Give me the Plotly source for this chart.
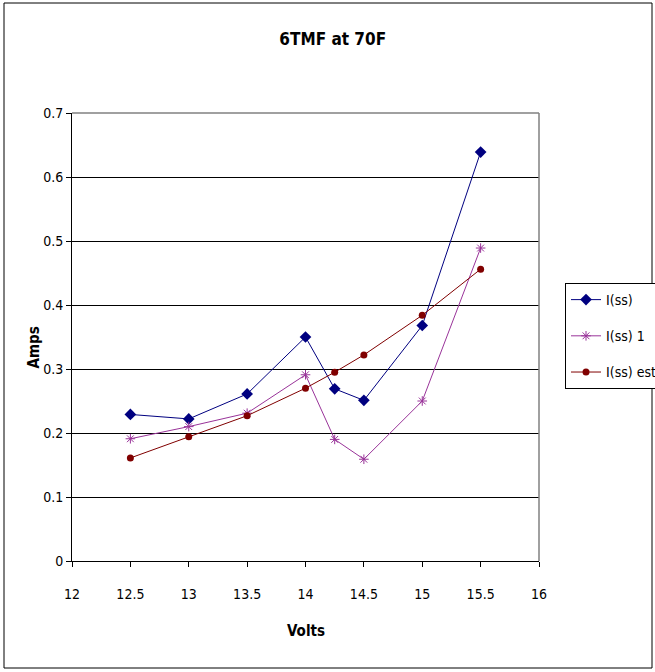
import plotly.graph_objects as go

volts = [12.5, 13, 13.5, 14, 14.25, 14.5, 15, 15.5]
i_ss = [0.229, 0.222, 0.261, 0.350, 0.269, 0.251, 0.368, 0.639]
i_ss_1 = [0.191, 0.210, 0.231, 0.291, 0.190, 0.159, 0.250, 0.489]
i_ss_est = [0.161, 0.194, 0.227, 0.270, 0.295, 0.322, 0.384, 0.456]

x_ticks = [12, 12.5, 13, 13.5, 14, 14.5, 15, 15.5, 16]
y_ticks = [0, 0.1, 0.2, 0.3, 0.4, 0.5, 0.6, 0.7]

FONT = "Liberation Sans Narrow, Arial Narrow, DejaVu Sans Condensed, Liberation Sans, Arial, sans-serif"

fig = go.Figure()
fig.add_trace(go.Scatter(
    x=volts, y=i_ss, name="I(ss)", mode="lines+markers", legendgroup="a",
    line=dict(color="#000080", width=1),
    marker=dict(symbol="diamond", size=9, color="#000080"),
))
fig.add_trace(go.Scatter(
    x=volts, y=i_ss_1, name="I(ss) 1", mode="lines+markers", legendgroup="b",
    line=dict(color="#993399", width=1),
    marker=dict(symbol="asterisk-open", size=8, color="#993399",
                line=dict(color="#993399", width=1)),
))
fig.add_trace(go.Scatter(
    x=volts, y=i_ss_est, name="I(ss) est", mode="lines+markers", legendgroup="c",
    line=dict(color="#800000", width=1),
    marker=dict(symbol="circle", size=7, color="#800000"),
))

fig.update_layout(
    width=655, height=672,
    margin=dict(l=72, r=116, t=113, b=111, autoexpand=False),
    paper_bgcolor="white", plot_bgcolor="white",
    font=dict(family=FONT, size=14, color="black"),
    title=dict(text="<b>6TMF at 70F</b>", x=0.508, xanchor="center",
               y=1 - 39.5 / 672, yanchor="middle",
               font=dict(family=FONT, size=17, color="black")),
    showlegend=True,
    legend=dict(x=1.0557, xanchor="left", y=0.6205, yanchor="top",
                bordercolor="black", borderwidth=1, bgcolor="white",
                font=dict(family=FONT, size=14, color="black"),
                traceorder="grouped", tracegroupgap=15,
                itemwidth=30),
    xaxis=dict(range=[12, 16], tickvals=x_ticks, ticktext=[f"{v:g}" for v in x_ticks],
               showgrid=False, zeroline=False,
               showline=True, linecolor="black", linewidth=1,
               ticks="outside", ticklen=5, tickcolor="black",
               ticklabelstandoff=15),
    yaxis=dict(range=[0, 0.7], tickvals=y_ticks, ticktext=[f"{v:g}" for v in y_ticks],
               showgrid=True, gridcolor="black", gridwidth=1,
               zeroline=False,
               showline=True, linecolor="black", linewidth=1,
               ticks="outside", ticklen=5, tickcolor="black"),
)

# plot-area border (top and right in gray)
fig.add_shape(type="line", xref="paper", yref="paper", x0=0, x1=1, y0=1, y1=1,
              line=dict(color="#808080", width=1.5), layer="above")
fig.add_shape(type="line", xref="paper", yref="paper", x0=1, x1=1, y0=0, y1=1,
              line=dict(color="#808080", width=1.5), layer="above")
# outer chart border
fig.add_shape(type="rect", xref="paper", yref="paper",
              x0=(4 - 72) / 467, x1=(652 - 72) / 467,
              y0=(561 - 668) / 448, y1=(561 - 3) / 448,
              line=dict(color="black", width=1), layer="above")

fig.add_annotation(text="<b>Volts</b>", xref="paper", yref="paper",
                   x=0.5, y=(561 - 631) / 448, xanchor="center", yanchor="middle",
                   showarrow=False, font=dict(family=FONT, size=15, color="black"))
fig.add_annotation(text="<b>Amps</b>", xref="paper", yref="paper",
                   x=(33.5 - 72) / 467, y=(561 - 348) / 448, xanchor="center", yanchor="middle",
                   textangle=-90, showarrow=False,
                   font=dict(family=FONT, size=15, color="black"))

fig.write_html("out.html")
